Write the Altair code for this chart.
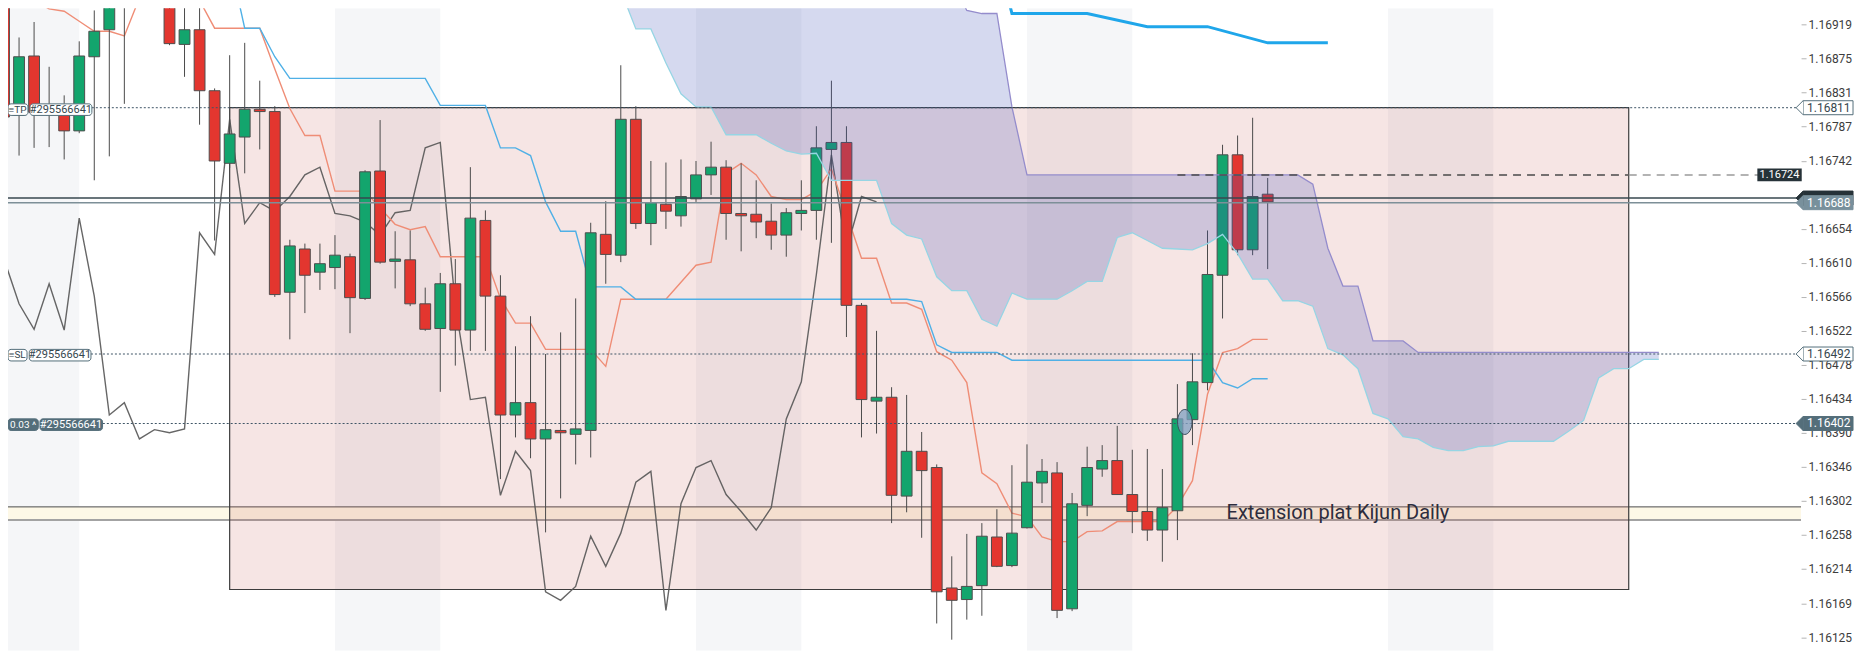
import altair as alt
import pandas as pd

# ---------------- data ----------------
opens = [1.16963, 1.16801, 1.16878, 1.16813, 1.16810, 1.16781, 1.16877, 1.16912, 1.16942, 1.16976,
         1.17008, 1.16982, 1.16893, 1.16912, 1.16833, 1.16739, 1.16773, 1.16809, 1.16806, 1.16572,
         1.16628, 1.16598, 1.16604, 1.16618, 1.16564, 1.16729, 1.16612, 1.16614, 1.16557, 1.16525,
         1.16583, 1.16523, 1.16665, 1.16567, 1.16413, 1.16429, 1.16382, 1.16393, 1.16388, 1.16393,
         1.16647, 1.16620, 1.16796, 1.16661, 1.16686, 1.16671, 1.16693, 1.16724, 1.16734, 1.16674,
         1.16673, 1.16664, 1.16646, 1.16674, 1.16678, 1.16757, 1.16766, 1.16555, 1.16431, 1.16436,
         1.16308, 1.16366, 1.16345, 1.16189, 1.16174, 1.16192, 1.16255, 1.16218, 1.16267, 1.16325,
         1.16338, 1.16162, 1.16296, 1.16343, 1.16354, 1.16310, 1.16288, 1.16264, 1.16289, 1.16407,
         1.16455, 1.16594, 1.16750, 1.16627, 1.16699]
highs = [1.16969, 1.16902, 1.16922, 1.16864, 1.16827, 1.16897, 1.16937, 1.16956, 1.16982, 1.17021,
         1.17028, 1.16989, 1.16956, 1.16956, 1.16836, 1.16879, 1.16895, 1.16846, 1.16813, 1.16640,
         1.16635, 1.16635, 1.16646, 1.16622, 1.16730, 1.16795, 1.16651, 1.16652, 1.16578, 1.16597,
         1.16615, 1.16734, 1.16678, 1.16594, 1.16502, 1.16541, 1.16492, 1.16520, 1.16564, 1.16662,
         1.16690, 1.16866, 1.16813, 1.16742, 1.16740, 1.16744, 1.16742, 1.16767, 1.16743, 1.16739,
         1.16717, 1.16687, 1.16681, 1.16717, 1.16787, 1.16846, 1.16787, 1.16558, 1.16522, 1.16449,
         1.16439, 1.16391, 1.16349, 1.16230, 1.16259, 1.16273, 1.16291, 1.16348, 1.16375, 1.16356,
         1.16352, 1.16312, 1.16372, 1.16374, 1.16399, 1.16368, 1.16369, 1.16343, 1.16453, 1.16493,
         1.16652, 1.16763, 1.16775, 1.16798, 1.16720]
lows = [1.16778, 1.16749, 1.16759, 1.16760, 1.16744, 1.16778, 1.16717, 1.16748, 1.16816, 1.16956,
        1.16969, 1.16892, 1.16851, 1.16789, 1.16639, 1.16733, 1.16726, 1.16757, 1.16566, 1.16511,
        1.16545, 1.16575, 1.16576, 1.16519, 1.16562, 1.16609, 1.16577, 1.16554, 1.16522, 1.16443,
        1.16477, 1.16496, 1.16496, 1.16330, 1.16384, 1.16357, 1.16261, 1.16305, 1.16349, 1.16358,
        1.16583, 1.16611, 1.16654, 1.16633, 1.16654, 1.16657, 1.16689, 1.16698, 1.16640, 1.16625,
        1.16642, 1.16627, 1.16618, 1.16652, 1.16640, 1.16636, 1.16514, 1.16384, 1.16389, 1.16273,
        1.16287, 1.16254, 1.16143, 1.16122, 1.16148, 1.16153, 1.16216, 1.16216, 1.16266, 1.16299,
        1.16150, 1.16159, 1.16282, 1.16333, 1.16310, 1.16260, 1.16250, 1.16223, 1.16251, 1.16374,
        1.16445, 1.16538, 1.16620, 1.16620, 1.16602]
closes = [1.16799, 1.16877, 1.16805, 1.16809, 1.16781, 1.16878, 1.16910, 1.16942, 1.16969, 1.17008,
          1.16982, 1.16894, 1.16912, 1.16833, 1.16742, 1.16777, 1.16809, 1.16806, 1.16569, 1.16632,
          1.16594, 1.16609, 1.16620, 1.16565, 1.16728, 1.16611, 1.16615, 1.16557, 1.16524, 1.16583,
          1.16523, 1.16668, 1.16567, 1.16413, 1.16429, 1.16382, 1.16394, 1.16390, 1.16395, 1.16649,
          1.16621, 1.16796, 1.16661, 1.16688, 1.16677, 1.16696, 1.16724, 1.16734, 1.16674, 1.16671,
          1.16663, 1.16646, 1.16675, 1.16678, 1.16759, 1.16766, 1.16555, 1.16433, 1.16436, 1.16309,
          1.16366, 1.16341, 1.16184, 1.16173, 1.16191, 1.16256, 1.16217, 1.16260, 1.16326, 1.16340,
          1.16160, 1.16298, 1.16345, 1.16354, 1.16310, 1.16288, 1.16264, 1.16293, 1.16408, 1.16456,
          1.16595, 1.16750, 1.16627, 1.16696, 1.16689]

# Tenkan-sen (i = 0..84)
tenkan = [1.17002, 1.16976, 1.16950, 1.16939, 1.16936, 1.16923, 1.16910, 1.16910, 1.16904, 1.16953,
          1.16989, 1.16989, 1.16989, 1.16950, 1.16914, 1.16914, 1.16914, 1.16914, 1.16861, 1.16810,
          1.16775, 1.16775, 1.16703, 1.16703, 1.16703, 1.16681, 1.16660, 1.16653, 1.16657, 1.16618,
          1.16618, 1.16618, 1.16618, 1.16564, 1.16532, 1.16532, 1.16498, 1.16498, 1.16498, 1.16498,
          1.16476, 1.16563, 1.16563, 1.16563, 1.16563, 1.16585, 1.16607, 1.16611, 1.16726, 1.16739,
          1.16724, 1.16696, 1.16692, 1.16692, 1.16703, 1.16732, 1.16674, 1.16616, 1.16616, 1.16558,
          1.16558, 1.16550, 1.16495, 1.16484, 1.16455, 1.16338, 1.16324, 1.16286, 1.16281, 1.16255,
          1.16249, 1.16249, 1.16262, 1.16263, 1.16275, 1.16275, 1.16275, 1.16275, 1.16295, 1.16328,
          1.16440, 1.16494, 1.16499, 1.16511, 1.16511]

# Kijun-sen (i = 15..84)
kijun_start = 15
kijun = [1.17002, 1.16914, 1.16914, 1.16877, 1.16849,
         1.16849, 1.16849, 1.16849, 1.16849, 1.16849, 1.16849, 1.16849, 1.16849, 1.16849,
         1.16814, 1.16814, 1.16814, 1.16814,
         1.16759, 1.16759, 1.16749, 1.16689, 1.16651, 1.16651, 1.16579, 1.16579, 1.16579,
         1.16563, 1.16563, 1.16563, 1.16563, 1.16563, 1.16563, 1.16563, 1.16563, 1.16563, 1.16563,
         1.16563, 1.16563, 1.16563, 1.16563, 1.16563, 1.16563, 1.16563, 1.16563, 1.16563,
         1.16560, 1.16504,
         1.16494, 1.16494, 1.16494, 1.16494,
         1.16484, 1.16484, 1.16484, 1.16484, 1.16484, 1.16484, 1.16484, 1.16484, 1.16484, 1.16484,
         1.16484, 1.16484, 1.16484, 1.16484,
         1.16455, 1.16448, 1.16460, 1.16460]

# Senkou span A / B (i = 41..110)
senkou_start = 41
senkou_a = [1.16963, 1.16913, 1.16913, 1.16869, 1.16829, 1.16812, 1.16812, 1.16776, 1.16776, 1.16776,
            1.16765, 1.16755, 1.16751, 1.16752, 1.16717, 1.16717, 1.16717, 1.16717, 1.16661, 1.16646,
            1.16641, 1.16592, 1.16574, 1.16574, 1.16537, 1.16528, 1.16571, 1.16563, 1.16563, 1.16563,
            1.16574, 1.16586, 1.16586, 1.16643, 1.16649, 1.16639, 1.16629, 1.16628, 1.16627, 1.16635,
            1.16647, 1.16622, 1.16589, 1.16589, 1.16561, 1.16561, 1.16554, 1.16499, 1.16491, 1.16473,
            1.16415, 1.16408, 1.16385, 1.16382, 1.16371, 1.16367, 1.16367, 1.16372, 1.16373, 1.16379,
            1.16379, 1.16379, 1.16379, 1.16392, 1.16406, 1.16461, 1.16473, 1.16473, 1.16485, 1.16485]
senkou_b = [1.17028, 1.17028, 1.17028, 1.17028, 1.17028, 1.17028, 1.17028, 1.17028, 1.17028, 1.17028,
            1.17028, 1.17028, 1.17028, 1.17028, 1.17028, 1.17028, 1.17028, 1.17028, 1.17028, 1.17028,
            1.17028, 1.17028, 1.16976, 1.16937, 1.16933, 1.16933, 1.16812, 1.16724, 1.16724, 1.16724,
            1.16724, 1.16724, 1.16724, 1.16724, 1.16724, 1.16724, 1.16724, 1.16724, 1.16724, 1.16724,
            1.16724, 1.16724, 1.16724, 1.16724, 1.16724, 1.16724, 1.16712, 1.16629, 1.16580, 1.16580,
            1.16509, 1.16509, 1.16509, 1.16494, 1.16494, 1.16494, 1.16494, 1.16494, 1.16494, 1.16494,
            1.16494, 1.16494, 1.16494, 1.16494, 1.16494, 1.16494, 1.16494, 1.16494, 1.16494, 1.16494]

# higher-timeframe Kijun (thick blue)
daily_kijun_i = [66, 67, 72, 76, 80, 84, 88]
daily_kijun = [1.17011, 1.16933, 1.16933, 1.16916, 1.16916, 1.16895, 1.16895]

# session shading (candle index ranges)
session_start = [-3, 22, 46, 68, 92]
session_end = [5, 29, 53, 75, 99]

tick_values = [1.16919, 1.16875, 1.16831, 1.16787, 1.16742, 1.16654, 1.16610, 1.16566,
               1.16522, 1.16478, 1.16434, 1.16390, 1.16346, 1.16302, 1.16258, 1.16214, 1.16169, 1.16125]

TP, SL, ENTRY = 1.16811, 1.16492, 1.16402
ASK, BID = 1.16694, 1.16688
LEVEL = 1.16724
ZONE = dict(x0=15, x1=108, y0=1.16187, y1=1.16811)
EXT = dict(y0=1.16277, y1=1.16294)
ENTRY_MARK = dict(i=78.49, p=1.16404)
EXT_TEXT = dict(i=81.27, p=1.162785, t="Extension plat Kijun Daily")

# ---------------- scales ----------------
XMIN, XMAX = 0.2656, 119.456
YMIN, YMAX = 1.161078, 1.169397
W, H = 1795, 643

xs = alt.Scale(domain=[XMIN, XMAX], nice=False, zero=False)
ys = alt.Scale(domain=[YMIN, YMAX], nice=False, zero=False)
yaxis = alt.Axis(orient="right", values=tick_values, format=".5f", title=None, domain=False,
                 grid=False, ticks=True, tickSize=5, tickColor="#b5b5b5", labelColor="#3d3d3d",
                 labelFont="Roboto", labelFontSize=12, labelPadding=2, labelOverlap=False)


def X(f):
    return alt.X(f, type="quantitative", scale=xs, axis=None)


def Y(f):
    return alt.Y(f, type="quantitative", scale=ys, axis=yaxis)


GREEN, RED = "#13a56d", "#e3362f"

# ---------------- frames ----------------
cdf = pd.DataFrame(dict(i=list(range(len(opens))), o=opens, h=highs, l=lows, c=closes))
cdf["col"] = [GREEN if c >= o else RED for o, c in zip(opens, closes)]
cdf["x1"] = cdf["i"] - 0.36
cdf["x2"] = cdf["i"] + 0.36

tk = pd.DataFrame(dict(i=list(range(len(tenkan))), p=tenkan))
kj = pd.DataFrame(dict(i=[kijun_start + k for k in range(len(kijun))], p=kijun))
# Chikou span = closes shifted 26 candles back
ch = pd.DataFrame(dict(i=[k - 26 for k in range(25, len(closes))], p=closes[25:]))
cloud = pd.DataFrame(dict(i=[senkou_start + k for k in range(len(senkou_a))], a=senkou_a, b=senkou_b))
dk = pd.DataFrame(dict(i=daily_kijun_i, p=daily_kijun))
bands = pd.DataFrame(dict(s=session_start, e=session_end, y0=[YMIN] * 5, y1=[YMAX] * 5))

# ---------------- layers ----------------
L = []
L.append(alt.Chart(bands).mark_rect(color="#f5f6f8", clip=True).encode(
    x=X("s"), x2="e", y=Y("y0"), y2="y1"))

ext = pd.DataFrame([dict(x0=XMIN, x1=XMAX, **EXT)])
L.append(alt.Chart(ext).mark_rect(color="#fdf8e7", clip=True).encode(x=X("x0"), x2="x1", y=Y("y0"), y2="y1"))
L.append(alt.Chart(ext).mark_rule(color="#a3a3a3", strokeWidth=2, clip=True).encode(x=X("x0"), x2="x1", y=Y("y0")))
L.append(alt.Chart(ext).mark_rule(color="#4a4a4a", strokeWidth=1, clip=True).encode(x=X("x0"), x2="x1", y=Y("y1")))

zone = pd.DataFrame([ZONE])
L.append(alt.Chart(zone).mark_rect(fill="#c0504d", fillOpacity=0.15, stroke="#3c3c3c", strokeWidth=1.2,
                                   clip=True).encode(x=X("x0"), x2="x1", y=Y("y0"), y2="y1"))

L.append(alt.Chart(ch).mark_line(color="#555555", strokeWidth=1.4, opacity=0.9, clip=True).encode(x=X("i"), y=Y("p")))
L.append(alt.Chart(tk).mark_line(color="#ef8d76", strokeWidth=1.4, clip=True).encode(x=X("i"), y=Y("p")))
L.append(alt.Chart(kj).mark_line(color="#4fb0e6", strokeWidth=1.4, clip=True).encode(x=X("i"), y=Y("p")))

L.append(alt.Chart(cdf).mark_rule(color="#4a4a4a", strokeWidth=1, clip=True).encode(x=X("i"), y=Y("l"), y2="h"))
L.append(alt.Chart(cdf).mark_rect(stroke="#4d4d4d", strokeWidth=1, clip=True).encode(
    x=X("x1"), x2="x2", y=Y("o"), y2="c", fill=alt.Fill("col:N", scale=None)))

L.append(alt.Chart(cloud).mark_area(color="#3f51b5", opacity=0.22, clip=True).encode(x=X("i"), y=Y("a"), y2="b"))
L.append(alt.Chart(cloud).mark_line(color="#96d5e4", strokeWidth=1.3, clip=True).encode(x=X("i"), y=Y("a")))
L.append(alt.Chart(cloud).mark_line(color="#948ccc", strokeWidth=1.3, clip=True).encode(x=X("i"), y=Y("b")))

L.append(alt.Chart(dk).mark_line(color="#1fa6ea", strokeWidth=3, clip=True).encode(x=X("i"), y=Y("p")))

# horizontal order / price lines
dotted = pd.DataFrame(dict(x0=[5.84, 5.78, 6.57], x1=[XMAX] * 3, p=[TP, SL, ENTRY]))
L.append(alt.Chart(dotted).mark_rule(color="#3f5566", strokeWidth=1, strokeDash=[2, 2], clip=True).encode(
    x=X("x0"), x2="x1", y=Y("p")))
prices = pd.DataFrame(dict(x0=[XMIN, XMIN], x1=[XMAX, XMAX], p=[ASK, BID], col=["#37474f", "#7d8f98"]))
L.append(alt.Chart(prices).mark_rule(strokeWidth=1.5, clip=True).encode(
    x=X("x0"), x2="x1", y=Y("p"), color=alt.Color("col:N", scale=None)))
dashed = pd.DataFrame(dict(x0=[78, 108], x1=[108, 116.6], p=[LEVEL, LEVEL], col=["#4a4a4a", "#9a9a9a"]))
L.append(alt.Chart(dashed).mark_rule(strokeWidth=1.5, strokeDash=[8, 6], clip=True).encode(
    x=X("x0"), x2="x1", y=Y("p"), color=alt.Color("col:N", scale=None)))

em = pd.DataFrame([ENTRY_MARK])
L.append(alt.Chart(em).mark_point(shape="M-0.58,0A0.58,1,0,1,0,0.58,0A0.58,1,0,1,0,-0.58,0Z", size=625,
                                  filled=True, fill="#7f9fc0", fillOpacity=0.75, stroke="#3b4d5c",
                                  strokeWidth=1, opacity=1).encode(x=X("i"), y=Y("p")))

et = pd.DataFrame([EXT_TEXT])
L.append(alt.Chart(et).mark_text(align="left", baseline="alphabetic", font="Roboto", fontSize=20,
                                 color="#2d2d3d").encode(x=X("i"), y=Y("p"), text="t:N"))

# left order tags
HALF = 0.0000906
ll = pd.DataFrame(dict(
    t=["≡TP", "#295566641", "≡SL", "#295566641", "0.03 ^", "#295566641"],
    x0=[0.27, 1.73, 0.27, 1.68, 0.27, 2.39],
    x1=[1.59, 5.84, 1.53, 5.78, 2.28, 6.55],
    tx=[0.90, 3.78, 0.88, 3.72, 1.27, 4.45],
    y0=[1.16801, 1.16801, 1.16483, 1.16483, 1.16393, 1.16393],
    y1=[1.16816, 1.16816, 1.16498, 1.16498, 1.16408, 1.16408],
    fill=["#ffffff", "#ffffff", "#ffffff", "#ffffff", "#546e7a", "#546e7a"],
    tc=["#37474f", "#37474f", "#37474f", "#37474f", "#ffffff", "#ffffff"],
    fs=[10, 11, 10, 11, 10, 11],
))
ll["ym"] = (ll["y0"] + ll["y1"]) / 2
L.append(alt.Chart(ll).mark_rect(stroke="#546e7a", strokeWidth=1, cornerRadius=3, clip=False).encode(
    x=X("x0"), x2="x1", y=Y("y0"), y2="y1", fill=alt.Fill("fill:N", scale=None)))
L.append(alt.Chart(ll).mark_text(font="Roboto", baseline="middle", align="center", clip=False).encode(
    x=X("tx"), y=Y("ym"), text="t:N", color=alt.Color("tc:N", scale=None),
    size=alt.Size("fs:Q", scale=None)))

# right price tags
rl = pd.DataFrame(dict(
    t=["1.16811", "", "1.16688", "1.16492", "1.16402"],
    p=[TP, ASK, BID, SL, ENTRY],
    fill=["#ffffff", "#263238", "#78909c", "#ffffff", "#546e7a"],
    stroke=["#546e7a", "#263238", "#78909c", "#546e7a", "#546e7a"],
    tc=["#37474f", "#ffffff", "#ffffff", "#37474f", "#ffffff"],
))
rl["x0"] = 119.59
rl["x1"] = 122.91
rl["tx"] = 121.3
rl["y0"] = rl["p"] - HALF
rl["y1"] = rl["p"] + HALF
L.append(alt.Chart(rl).mark_rect(strokeWidth=1, clip=False).encode(
    x=X("x0"), x2="x1", y=Y("y0"), y2="y1", fill=alt.Fill("fill:N", scale=None),
    stroke=alt.Stroke("stroke:N", scale=None)))
L.append(alt.Chart(rl).mark_point(shape="M0,-1L-1,0L0,1", size=196, filled=True, opacity=1, strokeWidth=1,
                                  clip=False).encode(
    x=X("x0"), y=Y("p"), fill=alt.Fill("fill:N", scale=None), stroke=alt.Stroke("stroke:N", scale=None)))
L.append(alt.Chart(rl).mark_text(font="Roboto", fontSize=12, baseline="middle", align="center", clip=False).encode(
    x=X("tx"), y=Y("p"), text="t:N", color=alt.Color("tc:N", scale=None)))

lv = pd.DataFrame(dict(t=["1.16724"], x0=[116.55], x1=[119.5], tx=[118.02], p=[LEVEL]))
lv["y0"] = lv["p"] - 0.000084
lv["y1"] = lv["p"] + 0.000084
L.append(alt.Chart(lv).mark_rect(color="#263238", clip=False).encode(x=X("x0"), x2="x1", y=Y("y0"), y2="y1"))
L.append(alt.Chart(lv).mark_text(font="Roboto", fontSize=11, color="#ffffff", baseline="middle", align="center",
                                 clip=False).encode(x=X("tx"), y=Y("p"), text="t:N"))

chart = alt.layer(*L).properties(
    width=W, height=H, background="#ffffff",
    padding={"left": 0, "top": 0, "right": 60, "bottom": 0},
    autosize=alt.AutoSizeParams(type="none"),
).configure_view(strokeWidth=0)

chart.save("out.html", embed_options={"renderer": "svg", "actions": False})
